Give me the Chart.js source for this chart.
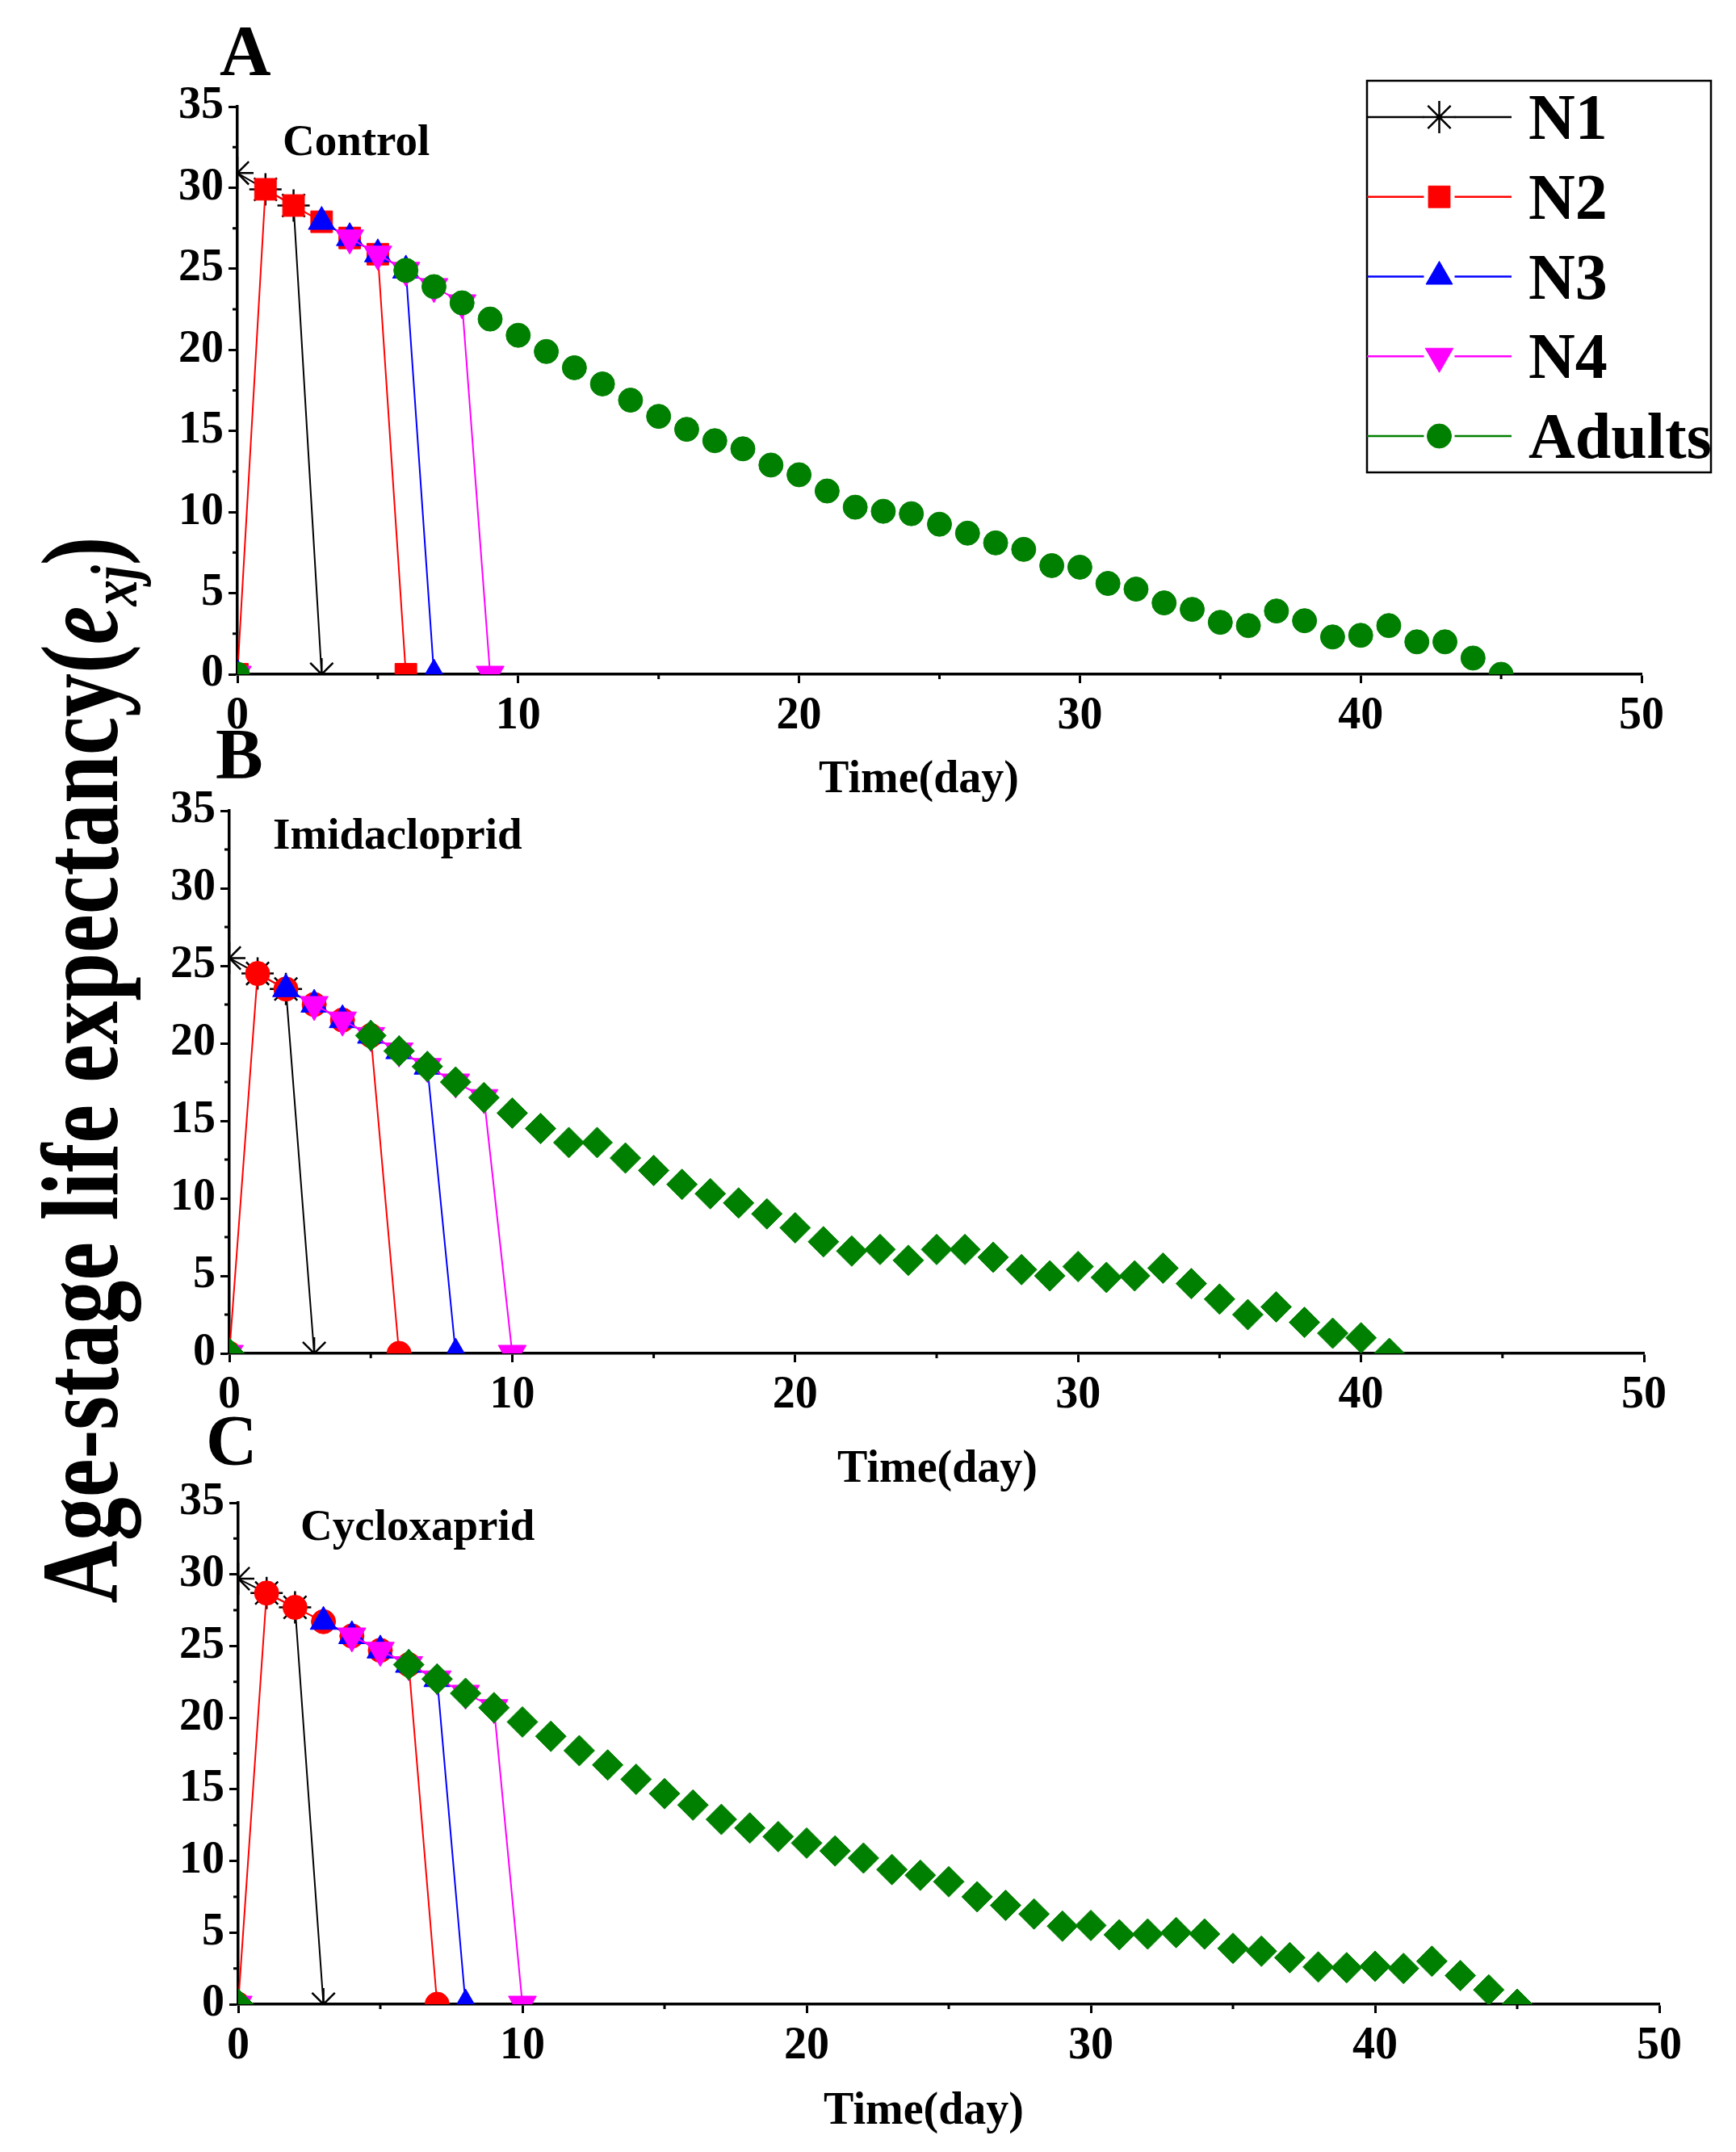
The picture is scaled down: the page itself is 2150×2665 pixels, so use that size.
<!DOCTYPE html>
<html lang="en">
<head>
<meta charset="UTF-8">
<title>Age-stage life expectancy</title>
<script src="https://cdn.jsdelivr.net/npm/chart.js@4.4.1/dist/chart.umd.min.js"></script>
<style>
    html, body { margin: 0; padding: 0; background: #fff; }
    #page { position: relative; width: 2150px; height: 2665px; overflow: hidden; }
    #page canvas { position: absolute; left: 0; }
    #ytitle {
        position: absolute; left: 99px; top: 1325px;
        transform: translate(-50%, -50%) rotate(-90deg) scaleX(0.79);
        font: bold 136px 'Liberation Serif', 'Times New Roman', serif;
        white-space: nowrap; color: #000; line-height: 1;
    }
    #ytitle sub { font-size: 0.6em; vertical-align: -0.3em; line-height: 0; }
</style>
</head>
<body>
<div id="page">
    <div id="ytitle">Age-stage life expectancy(<i>e<sub>xj</sub></i>)</div>
    <canvas id="chartA" width="2150" height="1005" style="top:0px"></canvas>
    <canvas id="chartB" width="2150" height="979" style="top:880px"></canvas>
    <canvas id="chartC" width="2150" height="914" style="top:1740px"></canvas>
</div>

<script>
    // ---- data: e_xj per day (index = day), null = stage not present ----
    var stageNames = ['N1', 'N2', 'N3', 'N4', 'Adults'];
    var panelNames = ['Control', 'Imidacloprid', 'Cycloxaprid'];
    var xTitle = 'Time(day)';

    // A  Control
    var ctrlN1 = [30.9, 29.9, 28.9, 0];
    var ctrlN2 = [0, 29.9, 28.9, 27.9, 26.9, 25.9, 0];
    var ctrlN3 = [0, null, null, 27.9, 26.9, 25.9, 24.9, 0];
    var ctrlN4 = [0, null, null, null, 26.9, 25.9, 24.9, 23.9, 22.9, 0];
    var ctrlAdults = [0, null, null, null, null, null,
        24.9, 23.9, 22.9, 21.9, 20.9, 19.9, 18.9, 17.9, 16.9, 15.9,
        15.1, 14.4, 13.9, 12.9, 12.3, 11.3, 10.3, 10.05, 9.9, 9.25,
        8.7, 8.1, 7.7, 6.7, 6.6, 5.6, 5.25, 4.4, 4.0, 3.2,
        3.0, 3.9, 3.3, 2.3, 2.4, 3.0, 2.0, 2.0, 1.0, 0];

    // B  Imidacloprid
    var impN1 = [25.5, 24.5, 23.5, 0];
    var impN2 = [0, 24.5, 23.5, 22.5, 21.5, 20.5, 0];
    var impN3 = [0, null, 23.5, 22.5, 21.5, 20.5, 19.5, 18.5, 0];
    var impN4 = [0, null, null, 22.5, 21.5, 20.5, 19.5, 18.5, 17.5, 16.5, 0];
    var impAdults = [0, null, null, null, null,
        20.5, 19.5, 18.5, 17.5, 16.5, 15.5, 14.5, 13.6, 13.6, 12.6,
        11.8, 10.9, 10.3, 9.7, 9.0, 8.1, 7.2, 6.6, 6.7, 6.0,
        6.7, 6.7, 6.2, 5.4, 5.0, 5.6, 4.9, 5.0, 5.5, 4.5,
        3.5, 2.5, 3.0, 2.0, 1.3, 1.0, 0];

    // C  Cycloxaprid
    var cycN1 = [29.7, 28.7, 27.7, 0];
    var cycN2 = [0, 28.7, 27.7, 26.7, 25.7, 24.7, 23.7, 0];
    var cycN3 = [0, null, null, 26.7, 25.7, 24.7, 23.7, 22.7, 0];
    var cycN4 = [0, null, null, null, 25.7, 24.7, 23.7, 22.7, 21.7, 20.7, 0];
    var cycAdults = [0, null, null, null, null, null,
        23.7, 22.7, 21.7, 20.7, 19.7, 18.7, 17.7, 16.7, 15.7, 14.7,
        13.9, 12.9, 12.3, 11.7, 11.25, 10.7, 10.2, 9.4, 9.0, 8.55,
        7.5, 6.9, 6.3, 5.45, 5.5, 4.85, 4.9, 5.0, 4.9, 3.9,
        3.7, 3.25, 2.6, 2.55, 2.65, 2.5, 3.0, 2.0, 1.0, 0];

    var xMin = 0, xMax = 50, xStep = 10;
    var yMin = 0, yMax = 35, yStep = 5;

    var FONT = "'Liberation Serif', 'Times New Roman', serif";
    Chart.defaults.font.family = FONT;
    Chart.defaults.font.weight = 'bold';
    Chart.defaults.color = '#000';

    var colors = ['#000000', '#ff0000', '#0000ff', '#ff00ff', '#008000'];

    function series(label, values, color, style, radius, rotation, order, line) {
        return {
            label: label,
            data: values.map(function (v, i) { return {x: i, y: v}; }),
            borderColor: color,
            backgroundColor: color,
            borderWidth: 2,
            showLine: line,
            pointStyle: style,
            pointRadius: radius,
            pointRotation: rotation,
            pointBackgroundColor: color,
            pointBorderColor: color,
            pointBorderWidth: style === 'star' ? 2.5 : 1,
            spanGaps: false,
            clip: 0,
            order: order
        };
    }

    // minor ticks, half length, between the labelled ones
    var minorTicks = {
        id: 'minorTicks',
        afterDraw: function (chart) {
            var ctx = chart.ctx, a = chart.chartArea, x = chart.scales.x, y = chart.scales.y;
            ctx.save();
            ctx.strokeStyle = '#000';
            ctx.lineWidth = 3;
            ctx.beginPath();
            for (var v = xMin + xStep / 2; v < xMax; v += xStep) {
                var px = x.getPixelForValue(v);
                ctx.moveTo(px, a.bottom);
                ctx.lineTo(px, a.bottom + 6);
            }
            for (var w = yMin + yStep / 2; w < yMax; w += yStep) {
                var py = y.getPixelForValue(w);
                ctx.moveTo(a.left, py);
                ctx.lineTo(a.left - 6, py);
            }
            ctx.stroke();
            ctx.restore();
        }
    };

    // panel letter, treatment name and the x title
    var panelText = {
        id: 'panelText',
        afterDraw: function (chart, args, o) {
            var ctx = chart.ctx;
            ctx.save();
            ctx.fillStyle = '#000';
            ctx.textBaseline = 'alphabetic';
            ctx.textAlign = 'left';
            ctx.font = 'bold 88px ' + FONT;
            ctx.fillText(o.letter, o.letterX, o.letterY);
            ctx.font = 'bold 55px ' + FONT;
            ctx.fillText(o.name, o.nameX, o.nameY);
            ctx.font = 'bold 56px ' + FONT;
            ctx.textAlign = 'center';
            ctx.textBaseline = 'middle';
            ctx.fillText(xTitle, o.titleX, o.titleY);
            ctx.restore();
        }
    };

    function marker(ctx, ds, x, y) {
        ctx.save();
        ctx.fillStyle = ds.pointBackgroundColor;
        ctx.strokeStyle = ds.pointBorderColor;
        ctx.lineWidth = ds.pointBorderWidth;
        Chart.helpers.drawPoint(ctx, {
            pointStyle: ds.pointStyle,
            rotation: ds.pointRotation,
            radius: ds.pointRadius,
            borderWidth: ds.pointBorderWidth
        }, x, y);
        ctx.restore();
    }

    // boxed legend like the original (only panel A)
    var stageLegend = {
        id: 'stageLegend',
        afterDraw: function (chart, args, o) {
            if (!o.show) return;
            var ctx = chart.ctx;
            ctx.save();
            ctx.strokeStyle = '#000';
            ctx.lineWidth = 2.5;
            ctx.strokeRect(o.x, o.y, o.w, o.h);
            chart.data.datasets.forEach(function (ds, i) {
                var cy = o.y + o.first + i * o.gap;
                var cx = o.x + o.lineLen / 2;
                ctx.strokeStyle = ds.borderColor;
                ctx.lineWidth = 2.5;
                ctx.beginPath();
                ctx.moveTo(o.x, cy);
                ctx.lineTo(cx - o.hole, cy);
                ctx.moveTo(cx + o.hole, cy);
                ctx.lineTo(o.x + o.lineLen, cy);
                ctx.stroke();
                marker(ctx, ds, cx, cy);
                ctx.fillStyle = '#000';
                ctx.font = 'bold 80px ' + FONT;
                ctx.textBaseline = 'alphabetic';
                ctx.fillText(ds.label, o.x + o.textX, cy + 27);
            });
            ctx.restore();
        }
    };

    function makePanel(id, g, sets, txt, legend) {
        var N2style = g.n2Style, adStyle = g.adultStyle;
        var datasets = [
            series(stageNames[0], sets[0], colors[0], 'star', 20, 0, 4, true),
            series(stageNames[1], sets[1], colors[1], N2style, N2style === 'rect' ? 19 : 15, 0, 3, true),
            series(stageNames[2], sets[2], colors[2], 'triangle', 19, 0, 2, true),
            series(stageNames[3], sets[3], colors[3], 'triangle', 20, 180, 1, true),
            series(stageNames[4], sets[4], colors[4], adStyle, adStyle === 'rectRot' ? 19 : 15, 0, 0, false)
        ];
        var tickFont = {size: 56, weight: 'bold', family: FONT};
        return new Chart(document.getElementById(id), {
            type: 'line',
            data: {datasets: datasets},
            plugins: [minorTicks, panelText, stageLegend],
            options: {
                responsive: false,
                animation: false,
                events: [],
                layout: {padding: {top: g.top, right: 2150 - g.right, left: 0, bottom: 0}},
                plugins: {
                    legend: {display: false},
                    tooltip: {enabled: false},
                    panelText: txt,
                    stageLegend: legend
                },
                scales: {
                    x: {
                        type: 'linear', min: xMin, max: xMax,
                        ticks: {stepSize: xStep, font: tickFont, color: '#000', padding: 8, maxRotation: 0, autoSkip: false},
                        grid: {display: true, drawOnChartArea: false, drawTicks: true, tickLength: 11, tickWidth: 3, tickColor: '#000'},
                        border: {display: true, color: '#000', width: 3.5},
                        afterFit: function (s) { s.height = g.height - g.bottom; }
                    },
                    y: {
                        type: 'linear', min: yMin, max: yMax,
                        ticks: {stepSize: yStep, font: tickFont, color: '#000', padding: 6},
                        grid: {display: true, drawOnChartArea: false, drawTicks: true, tickLength: 11, tickWidth: 3, tickColor: '#000'},
                        border: {display: true, color: '#000', width: 3.5},
                        afterFit: function (s) { s.width = g.left; }
                    }
                }
            }
        });
    }

    makePanel('chartA',
        {height: 1005, left: 294, right: 2033, top: 132, bottom: 835, n2Style: 'rect', adultStyle: 'circle'},
        [ctrlN1, ctrlN2, ctrlN3, ctrlN4, ctrlAdults],
        {letter: 'A', letterX: 272, letterY: 92, name: panelNames[0], nameX: 350, nameY: 192, titleX: 1138, titleY: 967},
        {show: true, x: 1693, y: 100, w: 426, h: 485, first: 45, gap: 98.75, lineLen: 179, hole: 19, textX: 200});

    makePanel('chartB',
        {height: 979, left: 284, right: 2036, top: 124, bottom: 796, n2Style: 'circle', adultStyle: 'rectRot'},
        [impN1, impN2, impN3, impN4, impAdults],
        {letter: 'B', letterX: 267, letterY: 83, name: panelNames[1], nameX: 338, nameY: 171, titleX: 1161, titleY: 941},
        {show: false});

    makePanel('chartC',
        {height: 914, left: 295, right: 2055, top: 121, bottom: 742, n2Style: 'circle', adultStyle: 'rectRot'},
        [cycN1, cycN2, cycN3, cycN4, cycAdults],
        {letter: 'C', letterX: 255, letterY: 73, name: panelNames[2], nameX: 372, nameY: 167, titleX: 1144, titleY: 876},
        {show: false});
</script>
</body>
</html>
